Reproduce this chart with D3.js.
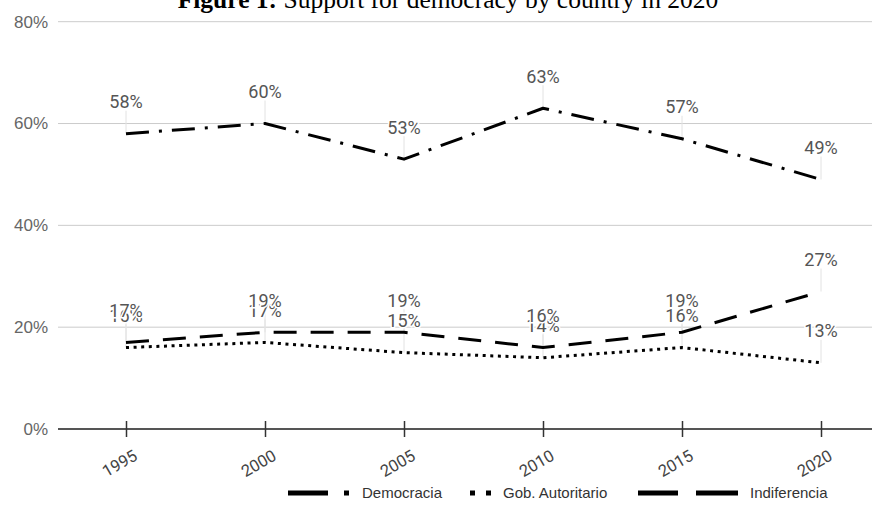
<!DOCTYPE html>
<html><head><meta charset="utf-8">
<script src="https://cdn.jsdelivr.net/npm/d3@7"></script>
<style>body{margin:0;background:#fff}svg{display:block}</style>
</head><body><svg id="c" width="876" height="506"></svg>
<script>
const years = ["1995","2000","2005","2010","2015","2020"];
const democracia = [58,60,53,63,57,49];
const autoritario = [16,17,15,14,16,13];
const indiferencia = [17,19,19,16,19,27];
const yTicks = [0,20,40,60,80];
const seriesNames = ["Democracia","Gob. Autoritario","Indiferencia"];
const titleBold = "Figure 1:";
const titleRest = " Support for democracy by country in 2020";

const series = [
  {name: seriesNames[0], values: democracia, dash: "23,10,3,10"},
  {name: seriesNames[1], values: autoritario, dash: "3,4.6"},
  {name: seriesNames[2], values: indiferencia, dash: "23,14"}
];

const svg = d3.select("#c");
const x = d3.scalePoint().domain(years).range([126, 821]);
const y = d3.scaleLinear().domain([0, 80]).range([429, 21.7]);

// title
const t = svg.append("text").attr("x", 448).attr("y", 8).attr("text-anchor", "middle")
  .attr("font-family", "Liberation Serif, Times New Roman, serif").attr("font-size", 25.5).attr("fill", "#000");
t.append("tspan").attr("font-weight", "bold").text(titleBold);
t.append("tspan").text(titleRest);

// gridlines
svg.append("g").selectAll("line").data(yTicks.filter(d => d !== 0)).join("line")
  .attr("x1", 58).attr("x2", 872).attr("y1", d => y(d)).attr("y2", d => y(d))
  .attr("stroke", "#cccccc").attr("stroke-width", 1);

// y labels
svg.append("g").selectAll("text").data(yTicks).join("text")
  .attr("x", 48).attr("y", d => y(d)).attr("dy", "0.35em").attr("text-anchor", "end")
  .attr("font-family", "Liberation Sans, Arial, sans-serif").attr("font-size", 17).attr("fill", "#666")
  .text(d => d + "%");

// baseline
svg.append("line").attr("x1", 58).attr("x2", 872).attr("y1", y(0)).attr("y2", y(0))
  .attr("stroke", "#555").attr("stroke-width", 2);

// x axis ticks
const xa = svg.append("g").attr("transform", `translate(0,${y(0) - 8})`)
  .call(d3.axisBottom(x).tickSize(16).tickSizeOuter(0));
xa.select(".domain").remove();
xa.selectAll(".tick line").attr("stroke", "#333").attr("stroke-width", 1.5);
xa.selectAll(".tick text")
  .attr("font-family", "Roboto, sans-serif").attr("font-size", 16.5).attr("fill", "#444")
  .attr("text-anchor", "end").attr("y", 0).attr("dy", 0)
  .attr("transform", "translate(12,38) rotate(-30)");

// leaders
const off = 32;
series.forEach(s => {
  svg.append("g").selectAll("line").data(s.values).join("line")
    .attr("x1", (d, i) => x(years[i])).attr("x2", (d, i) => x(years[i]))
    .attr("y1", d => y(d) - off + 9).attr("y2", d => y(d))
    .attr("stroke", "#e2e2e2").attr("stroke-width", 1);
});

// lines
const line = d3.line().x((d, i) => x(years[i])).y(d => y(d));
series.forEach(s => {
  svg.append("path").datum(s.values).attr("d", line)
    .attr("fill", "none").attr("stroke", "#000").attr("stroke-width", 3)
    .attr("stroke-dasharray", s.dash).attr("stroke-linejoin", "round");
});

// labels
series.forEach(s => {
  svg.append("g").selectAll("text").data(s.values).join("text")
    .attr("x", (d, i) => x(years[i])).attr("y", d => y(d) - off).attr("dy", "0.36em")
    .attr("text-anchor", "middle")
    .attr("font-family", "Roboto, sans-serif").attr("font-size", 18).attr("fill", "#555")
    .attr("stroke", "#fff").attr("stroke-width", 3).attr("paint-order", "stroke")
    .text(d => d + "%");
});

// legend
const lg = svg.append("g").attr("transform", "translate(0,493)");
const lf = {"font-family": "Liberation Sans, Arial, sans-serif", "font-size": 15, "fill": "#333"};
function legText(xp, txt) {
  const e = lg.append("text").attr("x", xp).attr("y", 0).attr("dy", "0.35em").text(txt);
  Object.entries(lf).forEach(([k, v]) => e.attr(k, v));
}
// Democracia
lg.append("line").attr("x1", 288).attr("x2", 328).attr("y1", 0).attr("y2", 0).attr("stroke", "#000").attr("stroke-width", 5);
lg.append("rect").attr("x", 344).attr("y", -2.5).attr("width", 5).attr("height", 5).attr("fill", "#000");
legText(362, series[0].name);
// Autoritario
lg.append("rect").attr("x", 470).attr("y", -2.5).attr("width", 5).attr("height", 5).attr("fill", "#000");
lg.append("rect").attr("x", 486).attr("y", -2.5).attr("width", 5).attr("height", 5).attr("fill", "#000");
legText(503, series[1].name);
// Indiferencia
lg.append("line").attr("x1", 638).attr("x2", 678).attr("y1", 0).attr("y2", 0).attr("stroke", "#000").attr("stroke-width", 5);
lg.append("line").attr("x1", 696).attr("x2", 738).attr("y1", 0).attr("y2", 0).attr("stroke", "#000").attr("stroke-width", 5);
legText(750, series[2].name);
</script></body></html>
